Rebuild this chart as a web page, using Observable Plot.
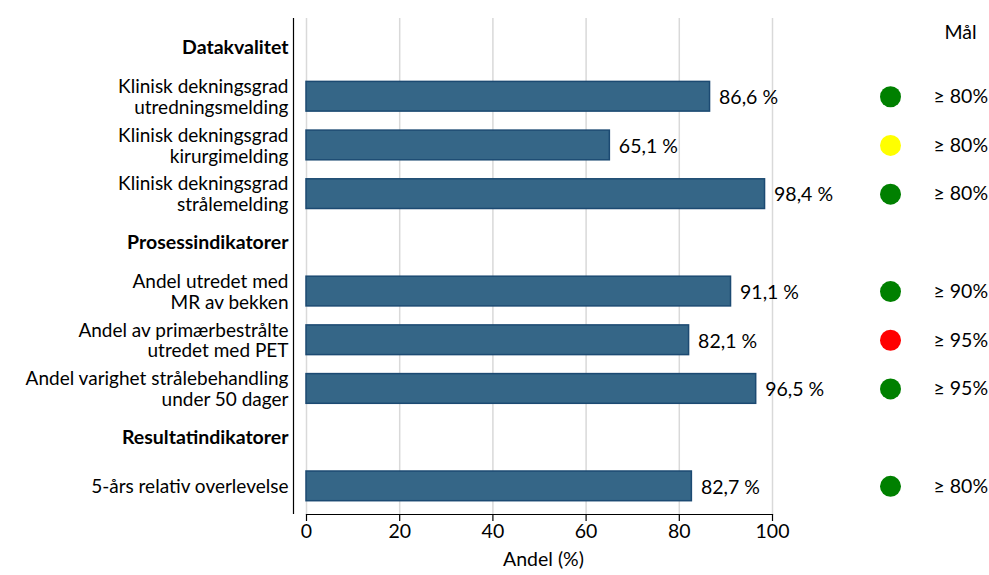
<!DOCTYPE html>
<html><head><meta charset="utf-8">
<script src="https://cdn.jsdelivr.net/npm/d3@7"></script>
<script src="https://cdn.jsdelivr.net/npm/@observablehq/plot@0.6"></script>
<style>body{margin:0;background:#fff}</style>
</head><body><div id="chart"></div>
<script>
const rows = [
  "Datakvalitet",
  "Klinisk dekningsgrad\nutredningsmelding",
  "Klinisk dekningsgrad\nkirurgimelding",
  "Klinisk dekningsgrad\nstrålemelding",
  "Prosessindikatorer",
  "Andel utredet med\nMR av bekken",
  "Andel av primærbestrålte\nutredet med PET",
  "Andel varighet strålebehandling\nunder 50 dager",
  "Resultatindikatorer",
  "5-års relativ overlevelse"
];
const headers = ["Datakvalitet", "Prosessindikatorer", "Resultatindikatorer"];
const indicators = [
  "Klinisk dekningsgrad\nutredningsmelding",
  "Klinisk dekningsgrad\nkirurgimelding",
  "Klinisk dekningsgrad\nstrålemelding",
  "Andel utredet med\nMR av bekken",
  "Andel av primærbestrålte\nutredet med PET",
  "Andel varighet strålebehandling\nunder 50 dager",
  "5-års relativ overlevelse"
];
const values = [86.6, 65.1, 98.4, 91.1, 82.1, 96.5, 82.7];
const statusColors = ["#008000", "#ffff00", "#008000", "#008000", "#ff0000", "#008000", "#008000"];
const goals = ["≥ 80%", "≥ 80%", "≥ 80%", "≥ 90%", "≥ 95%", "≥ 95%", "≥ 80%"];
const xTicks = [0, 20, 40, 60, 80, 100];
const xLabel = "Andel (%)";
const goalHeader = "Mål";

const barData = indicators.map((d, i) => ({label: d, value: values[i], status: statusColors[i], goal: goals[i]}));
const fmt = v => d3.format(".1f")(v).replace(".", ",") + " %";

const chart = Plot.plot({
  width: 989, height: 575,
  marginLeft: 306, marginRight: 217, marginTop: 18, marginBottom: 61,
  style: {fontFamily: "Lato, sans-serif", fontSize: "19.5px", color: "#000", background: "#fff"},
  x: {domain: [0, 100]},
  y: {domain: rows, range: [23.2, 510.2], paddingInner: 0.39, paddingOuter: 0.195, round: false, axis: null},
  color: {type: "identity"},
  marks: [
    Plot.gridX(xTicks, {stroke: "#d9d9d9", strokeOpacity: 1, strokeWidth: 1.5}),
    Plot.ruleX([0], {dx: -13, stroke: "#000", strokeWidth: 1.2}),
    Plot.barX(barData, {y: "label", x: "value", fill: "#356687", stroke: "#1c4a72", strokeWidth: 1.5}),
    Plot.frame({anchor: "bottom", stroke: "#000", strokeWidth: 1.2}),
    Plot.axisX(xTicks, {tickSize: 7, tickPadding: 3, label: null, stroke: "#000", strokeWidth: 1.2}),
    Plot.text([xLabel], {frameAnchor: "bottom", dy: 51, dx: 4}),
    Plot.text(indicators, {y: d => d, frameAnchor: "left", dx: -18, textAnchor: "end", lineHeight: 1.1, fontSize: 19}),
    Plot.text(headers, {y: d => d, frameAnchor: "left", dx: -18, textAnchor: "end", fontWeight: "bold"}),
    Plot.text(barData, {y: "label", x: "value", text: d => fmt(d.value), textAnchor: "start", dx: 9, dy: 1}),
    Plot.dot(barData, {y: "label", frameAnchor: "right", dx: 118, r: 10.5, fill: "status"}),
    Plot.text(barData, {y: "label", frameAnchor: "right", dx: 161, textAnchor: "start", text: "goal"}),
    Plot.text([goalHeader], {frameAnchor: "top-right", dx: 188, dy: 7, textAnchor: "middle"})
  ]
});
document.getElementById("chart").appendChild(chart);
</script>
</body></html>
